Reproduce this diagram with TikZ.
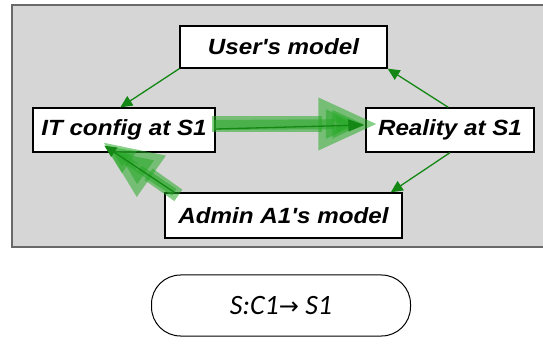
\documentclass[tikz,border=0pt]{standalone}
\usepackage{fontspec}
\setmainfont{Liberation Sans}
\newfontfamily\boxfont[FakeStretch=1.1,Ligatures=TeXOff]{Liberation Sans}
\newfontfamily\ovalfont{Carlito}
\newfontfamily\symfont{DejaVu Sans}
\usetikzlibrary{arrows.meta,calc}
\definecolor{panelgray}{RGB}{214,214,214}
\definecolor{panelline}{RGB}{105,105,105}
\definecolor{linkgreen}{RGB}{20,135,20}
\definecolor{flowgreen}{RGB}{40,170,40}
\tikzset{
  box/.style={draw=black, line width=1.3pt, fill=white, inner sep=0pt,
    font=\boxfont\fontsize{22}{26}\selectfont\bfseries\itshape},
  link/.style={draw=linkgreen, line width=1.3pt,
    -{Triangle[length=12pt,width=11pt]}},
  flow/.style={draw=flowgreen, opacity=0.55},
}
\begin{document}
\begin{tikzpicture}[x=1pt,y=-1pt]
\path[use as bounding box] (0,0) rectangle (543,344);

% grey panel, open on the right
\fill[panelgray] (12,5) rectangle (545,247);
\draw[panelline, line width=1.2pt] (545,5) -- (12,5) -- (12,247) -- (545,247);

% boxes
\node[box, minimum width=207pt, minimum height=42pt] (user)  at (283.5,47)  {User's model};
\node[box, minimum width=182pt, minimum height=44pt] (itc)   at (124,130)   {IT config at S1};
\node[box, minimum width=168pt, minimum height=44pt] (real)  at (450,130)   {Reality at S1};
\node[box, minimum width=237pt, minimum height=45pt] (admin) at (283.5,215.5) {Admin A1's model};

% thin green links
\draw[link] (user.south west) -- ($(itc.north west)!0.48!(itc.north east)$);
\draw[link] ($(real.north west)!0.49!(real.north east)$) -- (user.south east);
\draw[link] ($(real.south west)!0.5!(real.south east)$) -- ($(admin.north west)!0.95!(admin.north east)$);

% broad translucent flows
\coordinate (hstart) at ($(itc.east)+(-4,-6)$);
\coordinate (htip)   at ($(real.west)+(13,-6)$);
\draw[flow, line width=16pt, -{Triangle[length=60pt,width=48pt]}] (hstart) -- (htip);
\draw[flow, line width=10pt, -{Triangle[length=32pt,width=26pt]}] ($(itc.east)+(-2,-5)$) -- ($(real.west)+(-1,-6)$);
\draw[link, -{Triangle[length=16pt,width=12pt]}] ($(itc.east)+(0,-1)$) -- ($(real.west)+(-1,-5)$);

\coordinate (dstart) at ($(admin.north west)+(14,3)$);
\coordinate (dtip)   at ($(itc.south west)+(70,-11)$);
\draw[flow, line width=14pt, -{Triangle[length=60pt,width=46pt]}] (dstart) -- (dtip);
\draw[flow, line width=8pt, -{Triangle[length=30pt,width=24pt]}] ($(admin.north west)+(10,0)$) -- ($(itc.south west)+(72,-7)$);
\draw[link] ($(admin.north west)+(10,0)$) -- ($(itc.south west)+(72,-7)$);

% rule label below the panel
\node[draw=black, line width=1pt, rounded corners=29pt, minimum width=259pt,
      minimum height=61pt, inner sep=0pt,
      font=\ovalfont\fontsize{28}{32}\selectfont\itshape] (rule) at (281,305.5)
  {S:C1{\symfont\fontsize{24}{28}\selectfont\char"2192} S1};
\end{tikzpicture}
\end{document}
